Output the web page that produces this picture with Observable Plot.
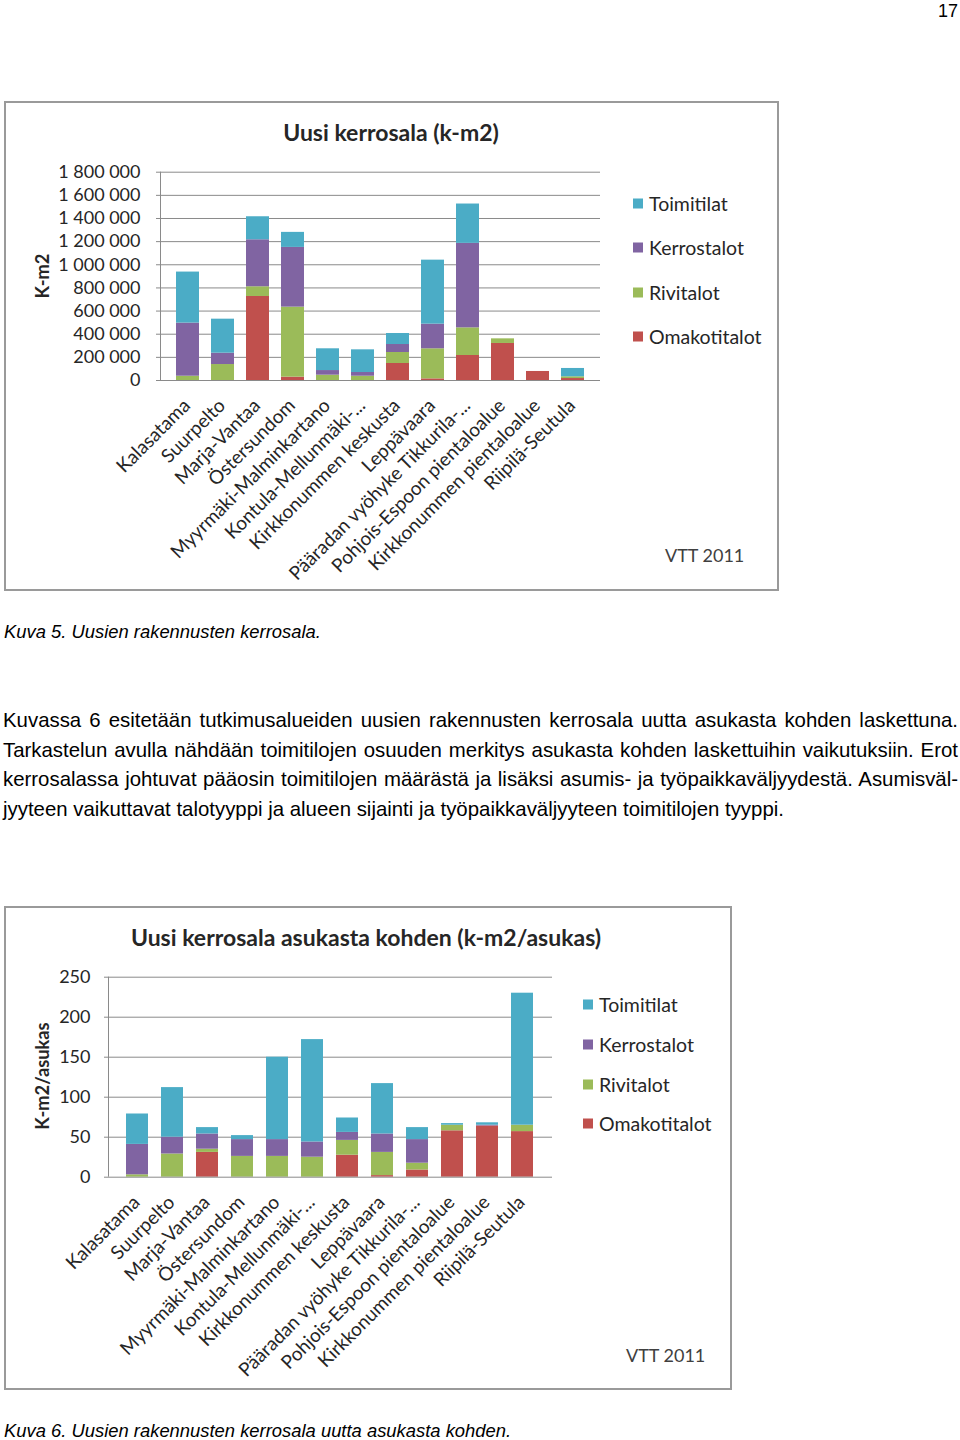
<!DOCTYPE html>
<html><head><meta charset="utf-8">
<script src="https://cdn.jsdelivr.net/npm/d3@7"></script>
<script src="https://cdn.jsdelivr.net/npm/@observablehq/plot@0.6"></script>
<style>
body{margin:0;background:#fff;}
#page{position:relative;width:960px;height:1440px;overflow:hidden;font-family:"Liberation Sans",Arial,sans-serif;color:#000;}
.abs{position:absolute;white-space:nowrap;}
.frame{position:absolute;border:2px solid #9a9a9a;box-sizing:border-box;pointer-events:none;}
.ct{font-family:Lato,sans-serif;color:#262626;}
.title{font-weight:bold;font-size:23px;transform:translate(-50%,-50%);}
.ylab{font-weight:bold;font-size:18.3px;transform:translate(-50%,-50%) rotate(-90deg);}
.leg{font-size:19.5px;transform:translateY(-50%);display:flex;align-items:center;}
.leg span.sw{display:inline-block;width:10px;height:10px;margin-right:6px;}
.vtt{font-size:18px;transform:translateY(-50%);color:#404040;}
.line{position:absolute;left:3px;width:955px;font-size:20.4px;line-height:30px;white-space:nowrap;}
.just{text-align:justify;text-align-last:justify;}
.cap{font-style:italic;font-size:18.4px;}
</style></head>
<body><div id="page"></div>
<script>
// ---- data ----
const areas = ["Kalasatama","Suurpelto","Marja-Vantaa","Östersundom","Myyrmäki-Malminkartano","Kontula-Mellunmäki-...","Kirkkonummen keskusta","Leppävaara","Pääradan vyöhyke Tikkurila-...","Pohjois-Espoon pientaloalue","Kirkkonummen pientaloalue","Riipilä-Seutula"];
const types = ["Omakotitalot","Rivitalot","Kerrostalot","Toimitilat"];
const legendOrder = ["Toimitilat","Kerrostalot","Rivitalot","Omakotitalot"];
const colors = ["#C0504D","#9BBB59","#8064A2","#4BACC6"];

// Chart 1: Uusi kerrosala (k-m2)
const omakoti1 = [0, 0, 726000, 29000, 0, 0, 147000, 14000, 216000, 320000, 78000, 17000];
const rivi1    = [37000, 138000, 84000, 605000, 46000, 37000, 95000, 260000, 239000, 40000, 0, 15000];
const kerros1  = [459000, 98000, 406000, 516000, 40000, 32000, 69000, 213000, 730000, 0, 0, 0];
const toimi1   = [441000, 294000, 199000, 130000, 188000, 196000, 95000, 553000, 340000, 0, 0, 72000];
const ticks1 = [0,200000,400000,600000,800000,1000000,1200000,1400000,1600000,1800000];

// Chart 2: Uusi kerrosala asukasta kohden (k-m2/asukas)
const omakoti2 = [0, 0, 31, 0, 0, 0, 27.5, 2, 9, 58, 64, 57];
const rivi2    = [3, 29, 4, 26, 26, 25, 18.5, 29, 8.5, 7, 0, 8];
const kerros2  = [38, 21, 19, 21, 21, 19, 10, 23, 29.5, 0, 1, 0];
const toimi2   = [38, 62, 8, 5, 103, 128, 18, 63, 15, 2, 3, 165];
const ticks2 = [0,50,100,150,200,250];

function table(series){
  const rows=[];
  areas.forEach((a,i)=>types.forEach((t,j)=>rows.push({area:a,type:t,value:series[j][i]})));
  return rows;
}
const fmtSpace = d => d3.format(",")(d).replace(/,/g," ");

function leftLine(){
  return function(...args){
    const dims = args.find(a=>a && typeof a==="object" && "marginLeft" in a && "height" in a);
    const l = document.createElementNS("http://www.w3.org/2000/svg","line");
    l.setAttribute("x1",dims.marginLeft+0.5); l.setAttribute("x2",dims.marginLeft+0.5);
    l.setAttribute("y1",dims.marginTop); l.setAttribute("y2",dims.height-dims.marginBottom);
    l.setAttribute("stroke","#8a8a8a");
    return l;
  };
}

function chart(series, ticks, fmt, o){
  return Plot.plot({
    width:o.width, height:o.height,
    marginLeft:o.ml, marginRight:o.mr, marginTop:o.mt, marginBottom:o.mb,
    style:{background:"transparent", fontFamily:"Lato, sans-serif", fontSize:"18px", color:"#262626", overflow:"visible"},
    x:{domain:areas, padding:o.pad, label:null},
    y:{domain:[0,ticks[ticks.length-1]], label:null},
    color:{domain:types, range:colors},
    marks:[
      Plot.gridY(ticks.slice(1), {stroke:"#8a8a8a", strokeOpacity:1}),
      Plot.barY(table(series), Plot.stackY({x:"area", y:"value", fill:"type", order:types})),
      Plot.ruleY([0], {stroke:"#8a8a8a"}),
      leftLine(),
      Plot.axisY(ticks, {tickFormat:fmt, tickSize:4, tickPadding:o.tp, stroke:"#8a8a8a", fontSize:18, label:null}),
      Plot.axisX({tickRotate:-45, tickSize:0, tickPadding:o.xtp, dx:-1, fontSize:19, label:null})
    ]
  });
}

const page = document.getElementById("page");
function add(html, cls, left, top, extra){
  const d=document.createElement("div"); d.className="abs "+(cls||""); d.innerHTML=html;
  d.style.left=left+"px"; d.style.top=top+"px"; if(extra) Object.assign(d.style,extra);
  page.appendChild(d); return d;
}
function place(svg,left,top){ svg.style.position="absolute"; svg.style.left=left+"px"; svg.style.top=top+"px"; page.appendChild(svg); }
function frame(l,t,w,h){ const f=document.createElement("div"); f.className="frame"; Object.assign(f.style,{left:l+"px",top:t+"px",width:w+"px",height:h+"px"}); page.appendChild(f); }
function legend(x,ys){
  legendOrder.forEach((t,i)=>add(`<span class="sw" style="background:${colors[types.indexOf(t)]}"></span>${t}`,"ct leg",x,ys[i]));
}

// page number
add("17","",938,1,{fontSize:"18px"});

// ---- Chart 1 ----
frame(4,101,775,490);
place(chart([omakoti1,rivi1,kerros1,toimi1], ticks1, fmtSpace, {width:775,height:490,ml:156,mr:179,mt:70.7,mb:211,pad:0.35,tp:16,xtp:22}),4,101);
add("Uusi kerrosala (k-m2)","ct title",391,132);
add("K-m2","ct ylab",42,276);
legend(633,[203,247,292,336]);
add("VTT 2011","ct vtt",665,555);
add("Kuva 5. Uusien rakennusten kerrosala.","cap",4,621);

// ---- Body text ----
const lines = [
 "Kuvassa 6 esitetään tutkimusalueiden uusien rakennusten kerrosala uutta asukasta kohden laskettuna.",
 "Tarkastelun avulla nähdään toimitilojen osuuden merkitys asukasta kohden laskettuihin vaikutuksiin. Erot",
 "kerrosalassa johtuvat pääosin toimitilojen määrästä ja lisäksi asumis- ja työpaikkaväljyydestä. Asumisväl-",
 "jyyteen vaikuttavat talotyyppi ja alueen sijainti ja työpaikkaväljyyteen toimitilojen tyyppi."
];
lines.forEach((t,i)=>{ const d=document.createElement("div"); d.className="line"+(i<3?" just":""); d.textContent=t; d.style.top=(705+i*29.6)+"px"; page.appendChild(d); });

// ---- Chart 2 ----
frame(4,906,728,484);
place(chart([omakoti2,rivi2,kerros2,toimi2], ticks2, d=>d, {width:728,height:484,ml:104,mr:180,mt:70.7,mb:213.3,pad:0.37,tp:14,xtp:22}),4,906);
add("Uusi kerrosala asukasta kohden (k-m2/asukas)","ct title",366,937);
add("K-m2/asukas","ct ylab",42,1076);
legend(583,[1004,1044,1084,1123]);
add("VTT 2011","ct vtt",626,1355);
add("Kuva 6. Uusien rakennusten kerrosala uutta asukasta kohden.","cap",4,1420);
</script>
</body></html>
